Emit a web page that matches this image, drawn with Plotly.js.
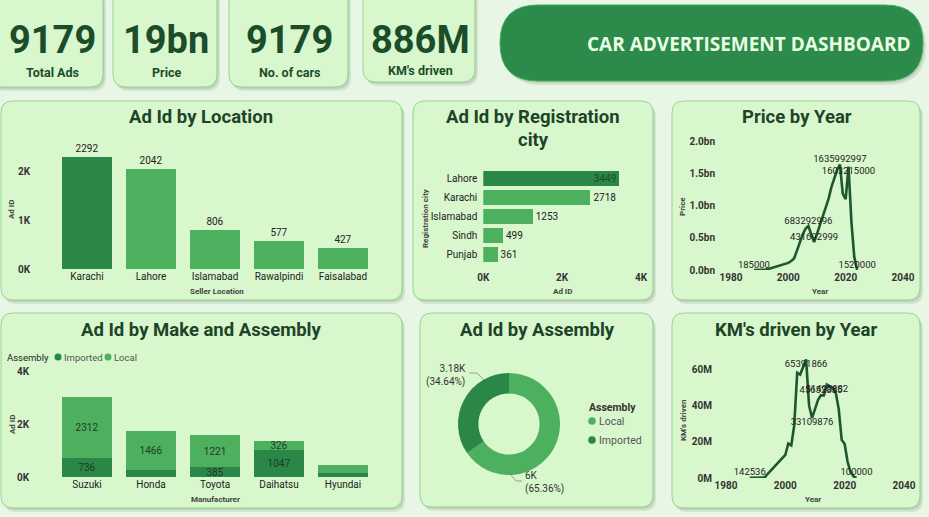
<!DOCTYPE html>
<html>
<head>
<meta charset="utf-8">
<script src="https://cdn.plot.ly/plotly-3.0.1.min.js"></script>
<style>
html,body{margin:0;padding:0;background:#e8f6e5;overflow:hidden;}
#chart{width:929px;height:517px;}
</style>
</head>
<body>
<div id="chart"></div>
<script>
// ---------------- DATA ----------------
const kpiValues = [9179, 19e9, 9179, 886e6];
const kpiLabels = ['Total Ads', 'Price', 'No. of cars', "KM's driven"];

const locCategories = ['Karachi', 'Lahore', 'Islamabad', 'Rawalpindi', 'Faisalabad'];
const locValues = [2292, 2042, 806, 577, 427];

const regCategories = ['Lahore', 'Karachi', 'Islamabad', 'Sindh', 'Punjab'];
const regValues = [3449, 2718, 1253, 499, 361];

const makeCategories = ['Suzuki', 'Honda', 'Toyota', 'Daihatsu', 'Hyundai'];
const importedValues = [736, 280, 385, 1047, 180];
const localValues = [2312, 1466, 1221, 326, 285];

const assemblyLabels = ['Local', 'Imported'];
const assemblyValues = [5999, 3180];

const years = [1988,1989,1990,1991,1992,1993,1994,1995,1996,1997,1998,1999,2000,2001,2002,2003,2004,2005,2006,2007,2008,2009,2010,2011,2012,2013,2014,2015,2016,2017,2018,2019,2020,2021,2022,2023,2024];
const priceByYear = [185000,300000,1000000,1500000,3000000,15000000,28000000,40000000,55000000,68000000,80000000,95000000,110000000,140000000,180000000,300000000,430000000,550000000,640000000,683292996,550000000,431692999,560000000,690000000,820000000,950000000,1100000000,1280000000,1420000000,1550000000,1635992997,1180000000,1100000000,1603215000,750000000,200000000,1520000];
const kmByYear = [142536,150000,160000,170000,180000,200000,2200000,4000000,5800000,7600000,9400000,11000000,12700000,19000000,18000000,29000000,58000000,57000000,61000000,65391866,40000000,33109876,38000000,43000000,45652835,45500000,51495882,50500000,49500000,47000000,38000000,21000000,18700000,8800000,3300000,800000,100000];
const priceLabelYears = [1988, 2007, 2009, 2018, 2021, 2024];
const kmLabelYears = [1988, 2007, 2009, 2012, 2014, 2024];

// ---------------- HELPERS ----------------
const W = 929, H = 517;
const X = p => p / W;
const Y = p => 1 - p / H;
const FONT = "Roboto, sans-serif";
const DARK = '#2a8747', LIGHT = '#4cb05f', LINE = '#1e5631', TXT = '#1d4429';

function rr(x0, y0, x1, y1, r) {
  const p = (x, y) => X(x).toFixed(5) + ',' + Y(y).toFixed(5);
  return 'M' + p(x0 + r, y0) + ' L' + p(x1 - r, y0) + ' Q' + p(x1, y0) + ' ' + p(x1, y0 + r) +
    ' L' + p(x1, y1 - r) + ' Q' + p(x1, y1) + ' ' + p(x1 - r, y1) +
    ' L' + p(x0 + r, y1) + ' Q' + p(x0, y1) + ' ' + p(x0, y1 - r) +
    ' L' + p(x0, y0 + r) + ' Q' + p(x0, y0) + ' ' + p(x0 + r, y0) + ' Z';
}
function card(b, r, fill, line) {
  const [x0, y0, x1, y1] = b;
  return [
    {type: 'path', xref: 'paper', yref: 'paper', layer: 'below', path: rr(x0 + 3, y0 + 4, x1 + 3, y1 + 4, r), fillcolor: 'rgba(40,70,40,0.10)', line: {width: 0}},
    {type: 'path', xref: 'paper', yref: 'paper', layer: 'below', path: rr(x0 + 1.5, y0 + 2, x1 + 1.5, y1 + 2, r), fillcolor: 'rgba(40,70,40,0.12)', line: {width: 0}},
    {type: 'path', xref: 'paper', yref: 'paper', layer: 'below', path: rr(x0, y0, x1, y1, r), fillcolor: fill, line: {color: line, width: 1}}
  ];
}
function polyline(pts, color) {
  return {type: 'path', xref: 'paper', yref: 'paper', layer: 'above',
    path: pts.map((q, i) => (i ? 'L' : 'M') + X(q[0]).toFixed(5) + ',' + Y(q[1]).toFixed(5)).join(' '),
    line: {color: color, width: 1}};
}
function legendDot(cx, cy, r, color) {
  return {type: 'circle', xref: 'paper', yref: 'paper', layer: 'above',
    x0: X(cx - r), x1: X(cx + r), y0: Y(cy + r), y1: Y(cy - r), fillcolor: color, line: {width: 0}};
}
function fmtBig(v) {
  if (v >= 1e9) return Math.round(v / 1e9) + 'bn';
  if (v >= 1e6) return Math.round(v / 1e6) + 'M';
  return String(v);
}
function fmtK(v) { return parseFloat((v / 1000).toFixed(2)) + 'K'; }
function ann(x, y, text, size, opts) {
  return Object.assign({xref: 'paper', yref: 'paper', x: X(x), y: Y(y), text: text, showarrow: false,
    xanchor: 'center', yanchor: 'middle', font: {family: FONT, size: size, color: TXT, weight: 700}}, opts || {});
}

// ---------------- SHAPES ----------------
const CARD = '#d8f7cc', BORDER = '#93d68f';
let shapes = [];
[[-12, -12, 103, 87], [113, -12, 217, 87], [229, -12, 348, 87], [363, -12, 475, 82]].forEach(b => shapes = shapes.concat(card(b, 13, CARD, BORDER)));
shapes = shapes.concat(card([500, 5, 923, 81], 38, '#2c8a4a', '#3fae5a'));
[[1, 101, 402, 300], [413, 101, 653, 300], [672, 101, 920, 300], [1, 313, 402, 508], [420, 313, 653, 507], [672, 313, 920, 508]].forEach(b => shapes = shapes.concat(card(b, 12, CARD, BORDER)));
// donut leader lines
shapes.push(polyline([[469, 373], [477, 373], [484, 380]], '#9a9a9a'));
shapes.push(polyline([[511, 475], [516, 481], [522, 481]], '#9a9a9a'));
// legend dots
shapes.push(legendDot(58, 357, 3.5, DARK));
shapes.push(legendDot(108, 357, 3.5, LIGHT));
shapes.push(legendDot(592, 421, 3.8, LIGHT));
shapes.push(legendDot(592, 440, 3.8, DARK));

// ---------------- ANNOTATIONS ----------------
const kpiX = [52, 166, 289, 420];
let annotations = [];
kpiValues.forEach((v, i) => {
  annotations.push(ann(kpiX[i], 40, fmtBig(v), 38, {font: {family: FONT, size: 38, color: '#1b4d2a', weight: 700}}));
  annotations.push(ann(kpiX[i], i === 3 ? 70 : 72, kpiLabels[i], 12.5, {font: {family: FONT, size: 12.5, color: '#1b4d2a', weight: 700}}));
});
annotations.push(ann(749, 44, 'CAR ADVERTISEMENT DASHBOARD', 19, {font: {family: 'Open Sans, Noto Sans, sans-serif', size: 19, color: '#e9ffe3', weight: 700}}));
// panel titles
annotations.push(ann(201, 117, 'Ad Id by Location', 18.5));
annotations.push(ann(533, 117, 'Ad Id by Registration', 18.5));
annotations.push(ann(533, 140, 'city', 18.5));
annotations.push(ann(797, 117, 'Price by Year', 18.5));
annotations.push(ann(201, 330, 'Ad Id by Make and Assembly', 18.5));
annotations.push(ann(537, 330, 'Ad Id by Assembly', 18.5));
annotations.push(ann(796, 330, "KM's driven by Year", 18.5));
// axis titles
const axT = {font: {family: FONT, size: 8, color: '#444', weight: 700}};
annotations.push(ann(12, 210, 'Ad ID', 8, Object.assign({textangle: -90}, axT)));
annotations.push(ann(217, 291, 'Seller Location', 8, axT));
annotations.push(ann(425, 218, 'Registration city', 8, Object.assign({textangle: -90}, axT)));
annotations.push(ann(562, 291, 'Ad ID', 8, axT));
annotations.push(ann(683, 207, 'Price', 8, Object.assign({textangle: -90}, axT)));
annotations.push(ann(820, 291, 'Year', 8, axT));
annotations.push(ann(12, 425, 'Ad ID', 8, Object.assign({textangle: -90}, axT)));
annotations.push(ann(215, 499, 'Manufacturer', 8, axT));
annotations.push(ann(683, 420, "KM's driven", 8, Object.assign({textangle: -90}, axT)));
annotations.push(ann(813, 499, 'Year', 8, axT));
// legends
const legF = (s, c, w) => ({xanchor: 'left', font: {family: FONT, size: s, color: c, weight: w}});
annotations.push(ann(5, 357, 'Assembly', 9.5, legF(9.5, '#222', 400)));
annotations.push(ann(62, 357, 'Imported', 9.5, legF(9.5, '#555', 400)));
annotations.push(ann(112, 357, 'Local', 9.5, legF(9.5, '#555', 400)));
annotations.push(ann(587, 407, 'Assembly', 10.5, legF(10.5, '#333', 700)));
assemblyLabels.forEach((lab, i) => {
  annotations.push(ann(597, 421 + i * 19, lab, 10.5, legF(10.5, '#555', 400)));
});
// donut labels
const asmTotal = assemblyValues.reduce((a, b) => a + b, 0);
const asmText = assemblyValues.map(v => fmtK(v) + '<br>(' + (v / asmTotal * 100).toFixed(2) + '%)');
annotations.push(ann(468, 375, asmText[1], 10, {xanchor: 'right', align: 'right', font: {family: FONT, size: 10, color: '#333', weight: 400}}));
annotations.push(ann(523, 482, asmText[0], 10, {xanchor: 'left', align: 'left', font: {family: FONT, size: 10, color: '#333', weight: 400}}));

// ---------------- TRACES ----------------
const maxLoc = Math.max(...locValues);
const maxReg = Math.max(...regValues);
const traces = [];
traces.push({type: 'bar', x: locCategories, y: locValues, xaxis: 'x', yaxis: 'y',
  marker: {color: locValues.map(v => v === maxLoc ? DARK : LIGHT)},
  text: locValues.map(String), textposition: 'outside', cliponaxis: false,
  textfont: {family: FONT, size: 10, color: '#222'}, showlegend: false, hoverinfo: 'skip'});

traces.push({type: 'bar', orientation: 'h', y: regCategories, x: regValues, xaxis: 'x2', yaxis: 'y2',
  marker: {color: regValues.map(v => v === maxReg ? DARK : LIGHT)},
  text: regValues.map(String), textposition: regValues.map(v => v === maxReg ? 'inside' : 'outside'),
  insidetextanchor: 'end', textangle: 0, constraintext: 'none', cliponaxis: false,
  insidetextfont: {family: FONT, size: 10, color: '#174d27'},
  outsidetextfont: {family: FONT, size: 10, color: '#222'}, showlegend: false, hoverinfo: 'skip'});

function labelText(ys, vals, labelYears) { return ys.map((yr, i) => labelYears.includes(yr) ? String(vals[i]) : ''); }
const pricePos = {1988: 'top center', 2007: 'top center', 2009: 'top center', 2018: 'top center', 2021: 'bottom center', 2024: 'top center'};
const kmPos = {1988: 'top center', 2007: 'bottom center', 2009: 'bottom center', 2012: 'top center', 2014: 'bottom center', 2024: 'top center'};

traces.push({type: 'scatter', mode: 'lines+text', x: years, y: priceByYear, xaxis: 'x3', yaxis: 'y3',
  line: {color: LINE, width: 2.6}, text: labelText(years, priceByYear, priceLabelYears),
  textposition: years.map(yr => pricePos[yr] || 'top center'), cliponaxis: false,
  textfont: {family: FONT, size: 9.5, color: '#222'}, showlegend: false, hoverinfo: 'skip'});

traces.push({type: 'bar', name: 'Imported', x: makeCategories, y: importedValues, xaxis: 'x4', yaxis: 'y4',
  marker: {color: DARK}, text: importedValues.map(v => v >= 300 ? String(v) : ''), textposition: 'inside',
  insidetextanchor: 'middle', textangle: 0, constraintext: 'none',
  textfont: {family: FONT, size: 10, color: '#1f3a24'}, showlegend: false, hoverinfo: 'skip'});
traces.push({type: 'bar', name: 'Local', x: makeCategories, y: localValues, xaxis: 'x4', yaxis: 'y4',
  marker: {color: LIGHT}, text: localValues.map(v => v >= 300 ? String(v) : ''), textposition: 'inside',
  insidetextanchor: 'middle', textangle: 0, constraintext: 'none',
  textfont: {family: FONT, size: 10, color: '#263a28'}, showlegend: false, hoverinfo: 'skip'});

traces.push({type: 'pie', labels: assemblyLabels, values: assemblyValues, hole: 0.6, sort: false,
  direction: 'clockwise', rotation: 0, marker: {colors: [LIGHT, DARK]},
  domain: {x: [X(458), X(560)], y: [Y(475), Y(373)]},
  textinfo: 'none', showlegend: false, hoverinfo: 'skip'});

traces.push({type: 'scatter', mode: 'lines+text', x: years, y: kmByYear, xaxis: 'x5', yaxis: 'y5',
  line: {color: LINE, width: 2.6}, text: labelText(years, kmByYear, kmLabelYears),
  textposition: years.map(yr => kmPos[yr] || 'top center'), cliponaxis: false,
  textfont: {family: FONT, size: 9.5, color: '#222'}, showlegend: false, hoverinfo: 'skip'});

// ---------------- AXES ----------------
const base = {showgrid: false, zeroline: false, showline: false, ticks: '', fixedrange: true};
const tickF = {family: FONT, size: 10, color: '#333', weight: 700};
const catF = {family: FONT, size: 10, color: '#222'};
const kTicks = vals => ({tickmode: 'array', tickvals: vals, ticktext: vals.map(v => (v / 1000) + 'K')});

const layout = {
  width: W, height: H, margin: {l: 0, r: 0, t: 0, b: 0},
  paper_bgcolor: '#e8f6e5', plot_bgcolor: 'rgba(0,0,0,0)',
  font: {family: FONT, color: '#333'}, showlegend: false,
  barmode: 'stack', bargap: 0.23,
  shapes: shapes, annotations: annotations,
  xaxis: Object.assign({}, base, {domain: [X(55), X(375)], anchor: 'y', type: 'category', tickfont: catF}),
  yaxis: Object.assign({}, base, kTicks([0, 1000, 2000]), {domain: [Y(269), Y(146.5)], anchor: 'x', range: [0, 2500], tickfont: tickF, ticklabelstandoff: 24}),
  xaxis2: Object.assign({}, base, kTicks([0, 2000, 4000]), {domain: [X(483.3), X(641)], anchor: 'y2', range: [0, 4000], tickfont: tickF, ticklabelstandoff: 6}),
  yaxis2: Object.assign({}, base, {domain: [Y(264.3), Y(168.8)], anchor: 'x2', type: 'category', autorange: 'reversed', tickfont: catF, ticklabelstandoff: 5}),
  xaxis3: Object.assign({}, base, {domain: [X(731), X(903)], anchor: 'y3', range: [1980, 2040], tickmode: 'array', tickvals: [1980, 2000, 2020, 2040], tickfont: tickF}),
  yaxis3: Object.assign({}, base, {domain: [Y(270), Y(141)], anchor: 'x3', range: [0, 2e9], tickmode: 'array', tickvals: [0, 5e8, 1e9, 1.5e9, 2e9],
    ticktext: [0, 5e8, 1e9, 1.5e9, 2e9].map(v => (v / 1e9).toFixed(1) + 'bn'), tickfont: tickF, ticklabelstandoff: 15}),
  xaxis4: Object.assign({}, base, {domain: [X(55), X(375)], anchor: 'y4', type: 'category', tickfont: catF}),
  yaxis4: Object.assign({}, base, kTicks([0, 2000, 4000]), {domain: [Y(477.3), Y(371.7)], anchor: 'x4', range: [0, 4000], tickfont: tickF, ticklabelstandoff: 25}),
  xaxis5: Object.assign({}, base, {domain: [X(726), X(904)], anchor: 'y5', range: [1980, 2040], tickmode: 'array', tickvals: [1980, 2000, 2020, 2040], tickfont: tickF}),
  yaxis5: Object.assign({}, base, {domain: [Y(478), Y(351)], anchor: 'x5', range: [0, 70e6], tickmode: 'array', tickvals: [0, 20e6, 40e6, 60e6],
    ticktext: [0, 20e6, 40e6, 60e6].map(v => (v / 1e6) + 'M'), tickfont: tickF, ticklabelstandoff: 13})
};

Plotly.newPlot('chart', traces, layout, {staticPlot: true, displayModeBar: false});
</script>
</body>
</html>
